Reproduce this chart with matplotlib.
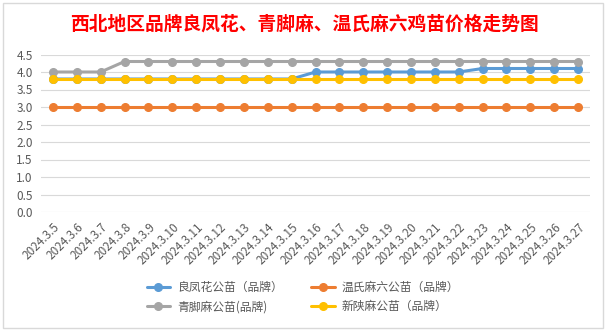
import matplotlib
matplotlib.use("Agg")
import matplotlib.pyplot as plt
from matplotlib.patches import Rectangle

plt.rcParams['font.family'] = ['Noto Sans CJK SC', 'DejaVu Sans']

dates = ["2024.3.5", "2024.3.6", "2024.3.7", "2024.3.8", "2024.3.9", "2024.3.10",
         "2024.3.11", "2024.3.12", "2024.3.13", "2024.3.14", "2024.3.15", "2024.3.16",
         "2024.3.17", "2024.3.18", "2024.3.19", "2024.3.20", "2024.3.21", "2024.3.22",
         "2024.3.23", "2024.3.24", "2024.3.25", "2024.3.26", "2024.3.27"]

liangfenghua = [3.8] * 11 + [4.0] * 7 + [4.1] * 5
wenshi = [3.0] * 23
qingjiao = [4.0] * 3 + [4.3] * 20
xinshan = [3.8] * 23

series = [
    ("良凤花公苗（品牌）", liangfenghua, "#5B9BD5"),
    ("温氏麻六公苗（品牌）", wenshi, "#ED7D31"),
    ("青脚麻公苗(品牌)", qingjiao, "#A5A5A5"),
    ("新陕麻公苗（品牌）", xinshan, "#FFC000"),
]

W, H = 608, 331
fig = plt.figure(figsize=(W / 100, H / 100), dpi=100)
fig.patch.set_facecolor("white")

# chart frame
fig.add_artist(Rectangle((3 / W, 3 / H), 600 / W, 325 / H, transform=fig.transFigure,
                         fill=False, edgecolor="#d9d9d9", linewidth=1.0))

ax = fig.add_axes([41 / W, 1 - 212 / H, 549 / W, 157.5 / H])
x = list(range(len(dates)))
handles = []
for label, vals, color in series:
    h, = ax.plot(x, vals, color=color, linewidth=2.2, marker="o", markersize=5.5,
                 label=label, solid_capstyle="round")
    handles.append(h)

ax.set_xlim(-0.5, len(dates) - 0.5)
ax.set_ylim(0, 4.5)
ax.set_yticks([0, 0.5, 1.0, 1.5, 2.0, 2.5, 3.0, 3.5, 4.0, 4.5])
ax.set_yticklabels([f"{v:.1f}" for v in ax.get_yticks()])
ax.set_xticks(x)
ax.set_xticklabels(dates, rotation=45, ha="right", rotation_mode="anchor")
ax.grid(axis="y", color="#d9d9d9", linewidth=0.8)
ax.set_axisbelow(True)
for s in ax.spines.values():
    s.set_visible(False)
ax.tick_params(axis="both", length=0, colors="#595959", labelsize=8.5)
ax.tick_params(axis="x", pad=6)
ax.tick_params(axis="y", pad=6)

fig.text(0.5, 1 - 24 / H, "西北地区品牌良凤花、青脚麻、温氏麻六鸡苗价格走势图",
         ha="center", va="center", color="#FF0000", fontsize=13.5, fontweight="bold")

# legend rows: blue/orange on top, gray/yellow below (legend fills column-wise)
legend_order = [handles[0], handles[2], handles[1], handles[3]]
fig.legend(handles=legend_order, loc="center", bbox_to_anchor=(303 / W, 1 - 297 / H),
           ncol=2, frameon=False, fontsize=8.5, labelcolor="#595959",
           handlelength=2.0, columnspacing=2.4, handletextpad=0.6, labelspacing=0.55)

fig.savefig("out.png", dpi=100)
